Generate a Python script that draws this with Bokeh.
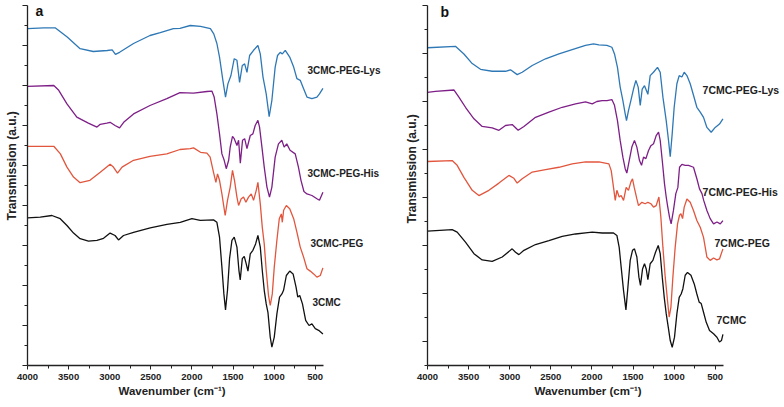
import math
from bokeh.plotting import figure
from bokeh.layouts import row
from bokeh.models import Range1d, FixedTicker, Label, CustomJSTickFormatter, Title
from bokeh.embed import file_html
from bokeh.resources import INLINE

# ---------------- Panel a (3CMC series) ----------------
a_lys_wn = [4000, 3800, 3660, 3517, 3360, 3200, 3030, 2970, 2930, 2880, 2710, 2510, 2385, 2225, 2145, 2020, 1895,
            1775, 1734, 1696, 1664, 1623, 1591, 1562, 1525, 1485, 1452, 1420, 1387, 1358, 1330, 1298, 1250, 1197,
            1168, 1135, 1096, 1060, 1027, 987, 958, 925, 900, 864, 810, 762, 722, 682, 641, 600, 540, 479, 448, 406]
a_lys_t = [8.42, 8.44, 8.44, 8.21, 7.92, 7.85, 7.875, 7.89, 7.78, 7.83, 8.05, 8.25, 8.32, 8.42, 8.43, 8.5, 8.48,
           8.42, 8.29, 8.05, 7.71, 7.13, 6.71, 7.04, 7.25, 7.67, 7.63, 7.08, 7.5, 7.54, 7.33, 7.75, 7.88, 8.0,
           7.79, 7.21, 6.79, 6.22, 6.63, 7.46, 7.75, 7.83, 7.79, 7.88, 7.71, 7.46, 7.17, 7.13, 6.92, 6.71, 6.67,
           6.71, 6.79, 6.93]

a_his_wn = [4000, 3680, 3620, 3520, 3400, 3260, 3155, 3115, 3035, 2995, 2935, 2880, 2830, 2710, 2510, 2305, 2145,
            1980, 1817, 1757, 1729, 1696, 1664, 1635, 1607, 1582, 1553, 1534, 1506, 1485, 1452, 1432, 1411, 1384,
            1358, 1330, 1290, 1258, 1230, 1197, 1177, 1148, 1120, 1087, 1056, 1027, 987, 947, 906, 878, 846, 806,
            743, 704, 673, 637, 600, 540, 479, 448, 406]
a_his_t = [6.98, 7.0, 6.88, 6.54, 6.21, 6.06, 5.96, 6.03, 6.06, 6.08, 6.0, 5.94, 6.08, 6.29, 6.5, 6.67, 6.82,
           6.81, 6.85, 6.86, 6.71, 6.29, 5.79, 5.29, 5.13, 4.92, 5.13, 5.46, 5.73, 5.67, 5.5, 5.63, 5.06, 5.63,
           5.67, 5.42, 5.75, 5.79, 6.0, 6.13, 5.96, 5.46, 4.96, 4.46, 4.21, 4.46, 5.21, 5.54, 5.63, 5.46, 5.54,
           5.38, 5.29, 4.96, 4.63, 4.35, 4.29, 4.25, 4.17, 4.13, 4.33]

a_peg_wn = [4000, 3680, 3600, 3520, 3440, 3360, 3240, 3115, 2995, 2955, 2905, 2850, 2710, 2510, 2305, 2145, 2020,
            1980, 1895, 1817, 1778, 1737, 1708, 1688, 1664, 1635, 1595, 1567, 1534, 1506, 1482, 1452, 1432, 1400,
            1372, 1343, 1311, 1278, 1250, 1217, 1197, 1168, 1144, 1120, 1096, 1068, 1047, 1022, 998, 966, 937,
            912, 900, 884, 851, 810, 762, 722, 682, 641, 600, 560, 519, 479, 438, 406]
a_peg_t = [5.48, 5.48, 5.29, 4.96, 4.71, 4.57, 4.63, 4.83, 5.03, 4.96, 4.81, 4.96, 5.13, 5.23, 5.29, 5.4, 5.42,
           5.44, 5.33, 5.31, 5.21, 4.83, 4.58, 4.79, 4.63, 4.29, 3.75, 4.13, 4.46, 4.88, 4.63, 4.21, 4.0, 4.17,
           4.21, 4.08, 4.21, 4.29, 4.13, 4.38, 4.58, 4.04, 3.46, 3.04, 2.38, 1.75, 1.5, 1.79, 2.46, 3.13, 3.67,
           3.79, 3.58, 3.88, 4.0, 3.92, 3.67, 3.33, 2.96, 2.71, 2.42, 2.36, 2.29, 2.21, 2.25, 2.44]

a_cmc_wn = [4000, 3845, 3703, 3602, 3520, 3440, 3360, 3258, 3155, 3075, 2995, 2935, 2893, 2832, 2710, 2507, 2304,
            2142, 2000, 1898, 1737, 1696, 1664, 1635, 1611, 1591, 1567, 1542, 1513, 1485, 1452, 1428, 1412, 1387,
            1363, 1339, 1318, 1290, 1258, 1225, 1197, 1168, 1144, 1120, 1096, 1075, 1047, 1027, 998, 966, 934,
            905, 885, 851, 810, 769, 733, 712, 688, 655, 616, 575, 540, 499, 458, 406]
a_cmc_t = [3.69, 3.71, 3.75, 3.67, 3.5, 3.31, 3.17, 3.11, 3.13, 3.18, 3.31, 3.25, 3.14, 3.25, 3.33, 3.44, 3.53,
           3.58, 3.67, 3.63, 3.64, 3.58, 3.21, 2.46, 1.79, 1.39, 1.88, 2.67, 3.13, 3.21, 2.96, 2.38, 2.14, 2.67,
           2.73, 2.54, 2.36, 2.79, 2.88, 3.04, 3.25, 2.96, 2.38, 1.88, 1.54, 1.33, 0.71, 0.46, 0.71, 1.29, 1.71,
           1.79, 1.88, 2.25, 2.36, 2.29, 1.96, 1.71, 1.75, 1.54, 1.13, 1.0, 1.04, 0.92, 0.88, 0.79]

# ---------------- Panel b (7CMC series) ----------------
b_lys_wn = [4000, 3660, 3557, 3456, 3355, 3213, 3051, 2990, 2909, 2848, 2726, 2564, 2401, 2240, 2078, 1980, 1915,
            1817, 1757, 1725, 1689, 1656, 1623, 1595, 1579, 1555, 1526, 1494, 1465, 1437, 1412, 1388, 1360, 1319,
            1291, 1251, 1202, 1169, 1136, 1096, 1068, 1047, 1023, 999, 966, 938, 905, 877, 844, 804, 764, 723,
            682, 642, 601, 549, 500, 448, 406]
b_lys_t = [6.62, 6.65, 6.49, 6.29, 6.17, 6.13, 6.13, 6.16, 6.06, 6.11, 6.25, 6.39, 6.49, 6.58, 6.67, 6.70, 6.68,
           6.67, 6.63, 6.49, 6.21, 5.80, 5.52, 5.24, 5.10, 5.31, 5.52, 5.76, 5.94, 5.80, 5.42, 5.76, 5.83, 5.65,
           6.04, 6.11, 6.21, 6.11, 5.59, 5.10, 4.69, 4.35, 4.83, 5.38, 5.87, 6.04, 6.01, 6.11, 6.04, 5.87, 5.63,
           5.38, 5.28, 5.17, 4.96, 4.86, 4.96, 5.03, 5.14]

b_his_wn = [4000, 3903, 3679, 3618, 3538, 3435, 3335, 3213, 3131, 3051, 2970, 2897, 2827, 2686, 2523, 2361, 2199,
            2078, 1996, 1940, 1875, 1817, 1757, 1725, 1689, 1656, 1623, 1595, 1575, 1546, 1514, 1482, 1453, 1421,
            1396, 1372, 1343, 1311, 1282, 1250, 1218, 1189, 1169, 1144, 1117, 1096, 1080, 1056, 1036, 1008, 979,
            954, 934, 905, 865, 825, 764, 723, 691, 661, 640, 601, 561, 520, 479, 438, 406]
b_his_t = [5.69, 5.71, 5.74, 5.59, 5.38, 5.14, 4.98, 4.95, 4.90, 5.0, 5.02, 4.90, 4.98, 5.17, 5.28, 5.38, 5.45,
           5.49, 5.45, 5.5, 5.52, 5.52, 5.54, 5.42, 5.10, 4.69, 4.34, 4.10, 4.01, 4.27, 4.55, 4.69, 4.55, 4.27,
           4.17, 4.34, 4.31, 4.48, 4.58, 4.62, 4.79, 4.86, 4.69, 4.27, 3.79, 3.51, 3.33, 3.09, 2.95, 3.23, 3.58,
           3.71, 4.13, 4.19, 4.17, 4.17, 4.13, 3.89, 3.68, 3.58, 3.44, 3.23, 3.06, 2.95, 2.99, 2.95, 3.02]

b_peg_wn = [4000, 3700, 3639, 3557, 3456, 3375, 3253, 3131, 3010, 2949, 2909, 2848, 2726, 2564, 2401, 2240, 2078,
            1915, 1793, 1765, 1737, 1716, 1696, 1668, 1644, 1615, 1583, 1555, 1526, 1506, 1485, 1453, 1433, 1392,
            1352, 1319, 1282, 1250, 1218, 1185, 1161, 1136, 1108, 1080, 1060, 1039, 1015, 987, 958, 934, 917, 897,
            877, 844, 804, 764, 723, 682, 642, 601, 561, 520, 479, 448, 406]
b_peg_t = [4.25, 4.27, 4.17, 3.92, 3.65, 3.54, 3.65, 3.80, 3.96, 3.90, 3.80, 3.89, 4.03, 4.08, 4.13, 4.20, 4.24,
           4.24, 4.20, 4.06, 3.71, 3.44, 3.65, 3.51, 3.54, 3.44, 3.71, 3.65, 3.82, 3.89, 3.71, 3.47, 3.33, 3.40,
           3.37, 3.40, 3.37, 3.30, 3.33, 3.51, 3.09, 2.46, 1.84, 1.35, 1.01, 1.21, 1.84, 2.46, 2.95, 3.13, 3.16,
           3.06, 3.30, 3.47, 3.40, 3.23, 3.02, 2.88, 2.67, 2.26, 2.19, 2.24, 2.20, 2.22, 2.43]

b_cmc_wn = [4000, 3700, 3639, 3538, 3435, 3335, 3213, 3091, 2970, 2929, 2888, 2827, 2686, 2523, 2361, 2199, 2050,
            1996, 1875, 1753, 1737, 1696, 1668, 1644, 1615, 1586, 1562, 1534, 1506, 1482, 1453, 1428, 1409, 1384,
            1360, 1339, 1319, 1291, 1258, 1226, 1193, 1169, 1144, 1120, 1096, 1071, 1047, 1023, 995, 966, 938, 914,
            893, 865, 837, 795, 755, 723, 695, 670, 642, 609, 569, 520, 479, 448, 424, 406]
b_cmc_t = [2.80, 2.83, 2.78, 2.57, 2.33, 2.20, 2.17, 2.26, 2.43, 2.36, 2.31, 2.40, 2.52, 2.60, 2.69, 2.74, 2.77,
           2.78, 2.76, 2.76, 2.76, 2.71, 2.46, 2.05, 1.56, 1.16, 1.63, 2.19, 2.40, 2.43, 2.26, 1.84, 1.67, 2.01,
           2.12, 2.01, 1.79, 2.12, 2.19, 2.36, 2.50, 2.33, 1.84, 1.42, 1.08, 0.80, 0.52, 0.38, 0.59, 1.08, 1.42,
           1.49, 1.60, 1.88, 1.94, 1.88, 1.70, 1.49, 1.32, 1.29, 1.11, 0.90, 0.73, 0.66, 0.59, 0.49, 0.52, 0.65]

x_major = [4000, 3500, 3000, 2500, 2000, 1500, 1000, 500]
x_minor = [3750, 3250, 2750, 2250, 1750, 1250, 750]
x_axis_span = (400, 4000)

COLORS = {"lys": "#2e78b6", "his": "#7e1f88", "peg": "#e2563d", "cmc": "#111111"}
FONT = "Liberation Sans"
AXIS_C = "#222222"
PX_PER_WN = 0.0822


def make_panel(series, labels, label_size, px_per_unit, y_axis_top, y_major, y_minor, letter, letter_x, letter_y,
               border_left, frame_w, ytitle_offset, xtitle_offset):
    frame_h = 365
    x_end = 4000 - frame_w / PX_PER_WN
    y_top = frame_h / px_per_unit
    p = figure(frame_width=frame_w, frame_height=frame_h, output_backend="svg", toolbar_location=None,
               x_range=Range1d(4000, x_end), y_range=Range1d(0, y_top),
               min_border_left=border_left, min_border_right=0,
               min_border_top=0, min_border_bottom=42)
    p.outline_line_color = None
    p.xgrid.visible = False
    p.ygrid.visible = False
    p.background_fill_color = "white"
    p.border_fill_color = "white"

    for (wn, t, key) in series:
        p.line(wn, t, line_color=COLORS[key], line_width=1.3)

    # x axis
    xa = p.xaxis[0]
    xa.bounds = x_axis_span
    xa.ticker = FixedTicker(ticks=x_major, minor_ticks=x_minor)
    xa.axis_line_color = AXIS_C
    xa.axis_line_width = 1.3
    xa.major_tick_line_color = AXIS_C
    xa.minor_tick_line_color = AXIS_C
    xa.major_tick_out = 4
    xa.major_tick_in = 0
    xa.minor_tick_out = 3
    xa.minor_tick_in = 0
    xa.major_label_text_font = FONT
    xa.major_label_text_font_style = "bold"
    xa.major_label_text_font_size = "9.5px"
    xa.major_label_text_color = "#222222"
    xa.major_label_standoff = 4

    # y axis (no tick labels)
    ya = p.yaxis[0]
    ya.bounds = (0, y_axis_top)
    ya.ticker = FixedTicker(ticks=y_major, minor_ticks=y_minor)
    ya.formatter = CustomJSTickFormatter(code="return ''")
    ya.axis_line_color = AXIS_C
    ya.axis_line_width = 1.3
    ya.major_tick_line_color = AXIS_C
    ya.minor_tick_line_color = AXIS_C
    ya.major_tick_out = 5
    ya.major_tick_in = 0
    ya.minor_tick_out = 3
    ya.minor_tick_in = 0
    ya.major_label_standoff = 5

    # axis titles
    p.add_layout(Title(text="Transmission (a.u.)", align="left", offset=ytitle_offset, standoff=4,
                       vertical_align="top",
                       text_font=FONT, text_font_style="bold", text_font_size="12px",
                       text_color="#222222"), "left")
    p.add_layout(Title(text="Wavenumber (cm\u207b\u00b9)", align="left", offset=xtitle_offset, standoff=0,
                       text_font=FONT, text_font_style="bold", text_font_size="11.5px",
                       text_color="#222222"), "below")

    # curve labels
    for (txt, x, y) in labels:
        p.add_layout(Label(x=x, y=y, text=txt, text_font=FONT, text_font_style="bold",
                           text_font_size=label_size, text_color="#222222",
                           text_align="left", text_baseline="middle"))
    # panel letter
    p.add_layout(Label(x=letter_x, y=letter_y, text=letter, text_font=FONT, text_font_style="bold",
                       text_font_size="14px", text_color="#111111", text_align="left",
                       text_baseline="alphabetic"))
    return p


pa = make_panel(
    [(a_lys_wn, a_lys_t, "lys"), (a_his_wn, a_his_t, "his"), (a_peg_wn, a_peg_t, "peg"), (a_cmc_wn, a_cmc_t, "cmc")],
    [("3CMC-PEG-Lys", 594, 7.375), ("3CMC-PEG-His", 594, 4.8), ("3CMC-PEG", 557, 3.05), ("3CMC", 533, 1.575)],
    label_size="10px", px_per_unit=40, y_axis_top=9,
    y_major=[0, 1, 2, 3, 4, 5, 6, 7, 8, 9], y_minor=[0.5, 1.5, 2.5, 3.5, 4.5, 5.5, 6.5, 7.5, 8.5],
    letter="a", letter_x=3903, letter_y=8.86,
    border_left=27, frame_w=365, ytitle_offset=145, xtitle_offset=91)

pb = make_panel(
    [(b_lys_wn, b_lys_t, "lys"), (b_his_wn, b_his_t, "his"), (b_peg_wn, b_peg_t, "peg"), (b_cmc_wn, b_cmc_t, "cmc")],
    [("7CMC-PEG-Lys", 654, 5.73), ("7CMC-PEG-His", 654, 3.625), ("7CMC-PEG", 509, 2.56), ("7CMC", 484, 0.94)],
    label_size="10.5px", px_per_unit=48, y_axis_top=7.5,
    y_major=[0.5, 1.5, 2.5, 3.5, 4.5, 5.5, 6.5, 7.5], y_minor=[0, 1, 2, 3, 4, 5, 6, 7],
    letter="b", letter_x=3842, letter_y=7.36,
    border_left=35, frame_w=357, ytitle_offset=142, xtitle_offset=107)

layout = row(pa, pb)
open("out.html", "w").write(file_html(layout, INLINE))
